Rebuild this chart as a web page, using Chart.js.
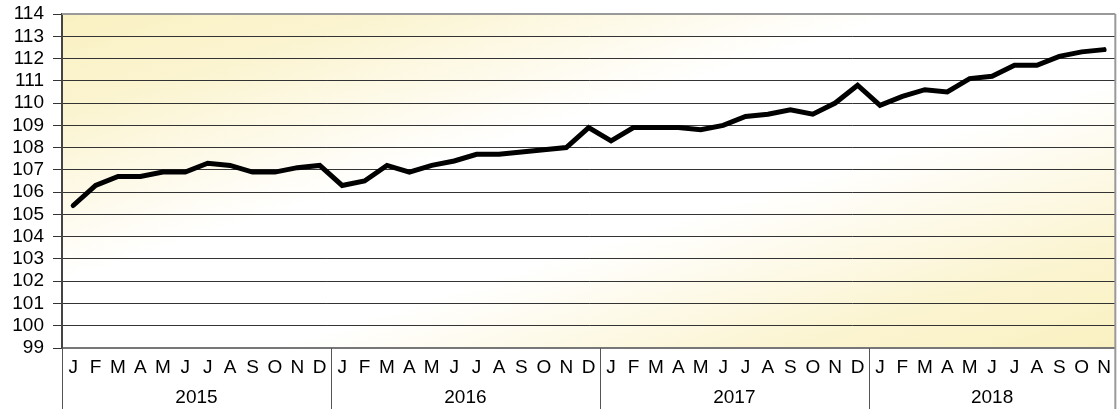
<!DOCTYPE html>
<html>
<head>
<meta charset="utf-8">
<script src="https://cdn.jsdelivr.net/npm/chart.js@4/dist/chart.umd.min.js"></script>
<style>
  html, body { margin: 0; padding: 0; background: #fff; }
  #wrap { width: 1119px; height: 409px; }
</style>
</head>
<body>
<div id="wrap"><canvas id="chart" width="1119" height="409"></canvas></div>
<script>
const years = ["2015", "2016", "2017", "2018"];
const monthsPerYear = [12, 12, 12, 11];
const monthLetters = ["J", "F", "M", "A", "M", "J", "J", "A", "S", "O", "N", "D"];
const values = [
    105.4, 106.3, 106.7, 106.7, 106.9, 106.9, 107.3, 107.2, 106.9, 106.9, 107.1, 107.2,
    106.3, 106.5, 107.2, 106.9, 107.2, 107.4, 107.7, 107.7, 107.8, 107.9, 108.0, 108.9,
    108.3, 108.9, 108.9, 108.9, 108.8, 109.0, 109.4, 109.5, 109.7, 109.5, 110.0, 110.8,
    109.9, 110.3, 110.6, 110.5, 111.1, 111.2, 111.7, 111.7, 112.1, 112.3, 112.4
];

let labels = [];
for (let y = 0; y < years.length; y++)
    for (let m = 0; m < monthsPerYear[y]; m++)
        labels.push(monthLetters[m]);

const FONT = "'Liberation Sans', Arial, sans-serif";

// yellow / white diagonal background, gradient in plot-box units
const backdrop = {
    id: "backdrop",
    beforeDraw(chart) {
        let a = chart.chartArea, ctx = chart.ctx;
        ctx.save();
        ctx.translate(a.left, a.top);
        ctx.scale(a.right - a.left, a.bottom - a.top);
        let g = ctx.createLinearGradient(0, 0, 1, 1);
        g.addColorStop(0, "#faf1c2");
        g.addColorStop(0.15, "#fbf4d0");
        g.addColorStop(0.4, "#ffffff");
        g.addColorStop(0.6, "#ffffff");
        g.addColorStop(0.85, "#fbf4d0");
        g.addColorStop(1, "#faf1c2");
        ctx.fillStyle = g;
        ctx.fillRect(0, 0, 1, 1);
        ctx.restore();
    }
};

// frame, year labels under the month letters, separators
const yearAxis = {
    id: "yearAxis",
    afterDraw(chart) {
        let ctx = chart.ctx, x = chart.scales.x, a = chart.chartArea;
        let half = (x.getPixelForValue(1) - x.getPixelForValue(0)) / 2;
        ctx.save();
        ctx.strokeStyle = "#999";
        ctx.lineWidth = 2;
        ctx.beginPath();
        ctx.moveTo(a.left, a.top);
        ctx.lineTo(a.right, a.top);
        ctx.moveTo(a.right, a.top);
        ctx.lineTo(a.right, chart.height);
        ctx.stroke();
        ctx.strokeStyle = "#555";
        ctx.lineWidth = 1;
        ctx.beginPath();
        ctx.moveTo(a.left + 0.5, a.bottom);
        ctx.lineTo(a.left + 0.5, chart.height);
        ctx.stroke();
        ctx.font = "19px " + FONT;
        ctx.fillStyle = "#000";
        ctx.textAlign = "center";
        ctx.textBaseline = "middle";
        let start = 0;
        for (let y = 0; y < years.length; y++) {
            let end = start + monthsPerYear[y] - 1;
            let cx = (x.getPixelForValue(start) + x.getPixelForValue(end)) / 2;
            ctx.fillText(years[y], cx, 398);
            if (y > 0) {
                let sx = Math.round(x.getPixelForValue(start) - half) + 0.5;
                ctx.beginPath();
                ctx.moveTo(sx, a.bottom);
                ctx.lineTo(sx, chart.height);
                ctx.stroke();
            }
            start = end + 1;
        }
        ctx.restore();
    }
};

new Chart(document.getElementById("chart").getContext("2d"), {
    type: "line",
    data: {
        labels: labels,
        datasets: [{
            data: values,
            borderColor: "#000",
            backgroundColor: "#000",
            borderWidth: 5,
            pointRadius: 0,
            tension: 0,
            borderCapStyle: "round",
            borderJoinStyle: "miter"
        }]
    },
    options: {
        responsive: false,
        animation: false,
        layout: { padding: { top: 14, right: 2, left: 0, bottom: 0 } },
        plugins: { legend: { display: false }, tooltip: { enabled: false } },
        scales: {
            x: {
                type: "category",
                offset: true,
                grid: { display: false, drawTicks: false },
                border: { display: true, color: "#777", width: 2 },
                ticks: {
                    autoSkip: false,
                    maxRotation: 0,
                    padding: 8,
                    color: "#000",
                    font: { family: FONT, size: 19 }
                },
                afterFit(scale) { scale.height = 61; }
            },
            y: {
                min: 99,
                max: 114,
                ticks: {
                    stepSize: 1,
                    autoSkip: false,
                    padding: 9,
                    color: "#000",
                    font: { family: FONT, size: 19 }
                },
                grid: {
                    color: "#333",
                    tickColor: "#333",
                    tickLength: 9,
                    lineWidth: 1
                },
                border: { display: true, color: "#444", width: 2 },
                afterFit(scale) {
                    scale.width = 62;
                    scale.paddingTop = 0;
                    scale.paddingBottom = 0;
                }
            }
        }
    },
    plugins: [backdrop, yearAxis]
});
</script>
</body>
</html>
